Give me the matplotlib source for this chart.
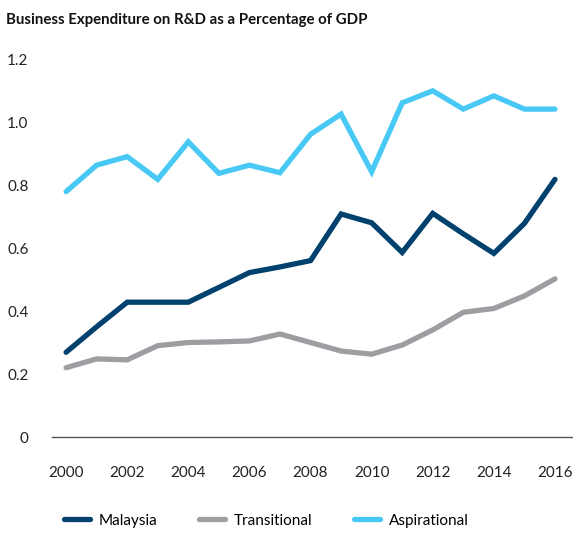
import numpy as np
import matplotlib.pyplot as plt
from matplotlib.ticker import FuncFormatter

plt.rcParams['font.family'] = ['Lato', 'DejaVu Sans']

years = list(range(2000, 2017))
malaysia = [0.269, 0.35, 0.428, 0.428, 0.428, 0.475, 0.522, 0.54, 0.56, 0.708,
            0.68, 0.586, 0.71, 0.645, 0.583, 0.678, 0.818]
transitional = [0.22, 0.248, 0.245, 0.29, 0.30, 0.302, 0.305, 0.327, 0.30, 0.273,
                0.263, 0.292, 0.34, 0.396, 0.408, 0.448, 0.502]
aspirational = [0.779, 0.863, 0.89, 0.818, 0.937, 0.837, 0.863, 0.839, 0.961, 1.025,
                0.842, 1.061, 1.099, 1.041, 1.083, 1.041, 1.041]
series_names = ['Malaysia', 'Transitional', 'Aspirational']
colors = ['#00416e', '#9d9ea2', '#48c9f5']
yticks = [0, 0.2, 0.4, 0.6, 0.8, 1.0, 1.2]
xticks = list(range(2000, 2017, 2))

fig = plt.figure(figsize=(5.73, 5.34), dpi=100)
ax = fig.add_axes([0.0908, 0.1816, 0.9092, 0.7079])

for vals, name, c in zip([malaysia, transitional, aspirational], series_names, colors):
    ax.plot(years, vals, color=c, lw=3.8, label=name,
            solid_capstyle='round', solid_joinstyle='miter')

ax.set_xlim(1999.54, 2016.59)
ax.set_ylim(0, 1.2)
ax.set_yticks(yticks)
ax.set_xticks(xticks)
ax.yaxis.set_major_formatter(FuncFormatter(lambda v, p: '0' if v == 0 else f'{v:.1f}'))

for s in ['top', 'right', 'left']:
    ax.spines[s].set_visible(False)
ax.spines['bottom'].set_color('#555555')
ax.spines['bottom'].set_linewidth(1.0)
ax.spines['bottom'].set_zorder(0)
ax.tick_params(axis='both', length=0, labelsize=11, colors='#222222')
ax.tick_params(axis='y', pad=17)
ax.tick_params(axis='x', pad=21)

fig.text(0.011, 0.962, 'Business Expenditure on R&D as a Percentage of GDP',
         fontsize=10.8, fontweight='bold', color='#111111', ha='left', va='center')

fig.legend(loc='center', bbox_to_anchor=(0.465, 0.025), ncol=3, frameon=False,
           fontsize=11, handlelength=1.7, columnspacing=2.7, handletextpad=0.6)

fig.savefig('out.png', dpi=100)
